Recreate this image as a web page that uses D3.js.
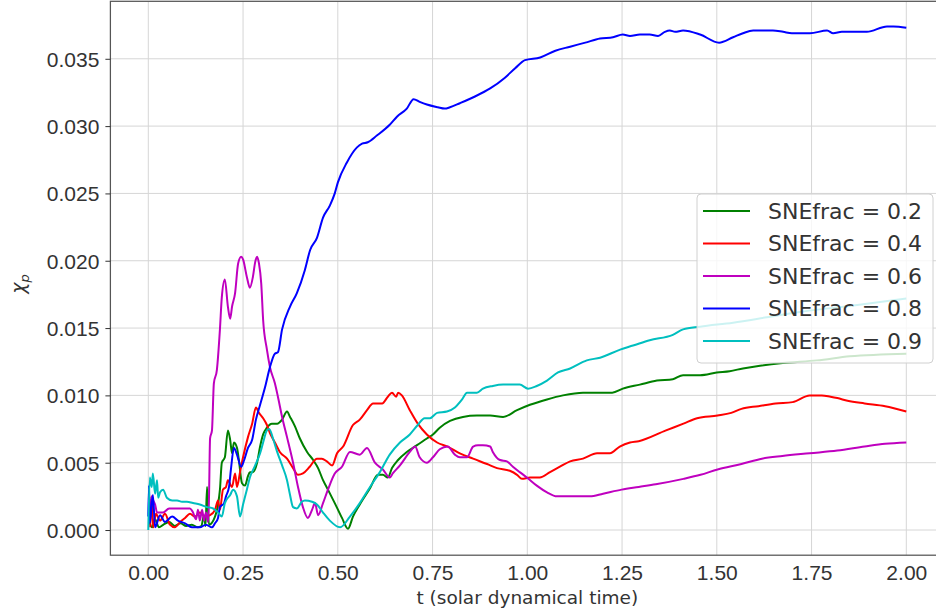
<!DOCTYPE html>
<html>
<head>
<meta charset="utf-8">
<script src="https://cdn.jsdelivr.net/npm/d3@7"></script>
<style>
  body { margin: 0; background: #fff; }
  svg { display: block; font-family: "DejaVu Sans", sans-serif; }
</style>
</head>
<body>
<div id="chart"></div>
<script>
// [t, chi_p] samples, one array per run
const sne02 = [
  [0.003, 0.0006], [0.010, 0.0002], [0.018, 0.0008], [0.028, 0.0002], [0.040, 0.0004],
  [0.055, 0.0006], [0.070, 0.0003], [0.085, 0.0005], [0.100, 0.0003], [0.115, 0.0004],
  [0.130, 0.0002], [0.140, 0.0003], [0.147, 0.0011], [0.151, 0.0003], [0.155, 0.0032],
  [0.160, 0.0004], [0.176, 0.0010], [0.184, 0.0019], [0.189, 0.0030], [0.194, 0.0050],
  [0.202, 0.0054], [0.210, 0.0074], [0.216, 0.0067], [0.221, 0.0057], [0.226, 0.0065],
  [0.234, 0.0061], [0.239, 0.0052], [0.247, 0.0035], [0.255, 0.0033], [0.263, 0.0040],
  [0.268, 0.0043], [0.276, 0.0043], [0.287, 0.0050], [0.295, 0.0062], [0.303, 0.0071],
  [0.313, 0.0076], [0.326, 0.0079], [0.340, 0.0079], [0.353, 0.0082], [0.366, 0.0088],
  [0.374, 0.0084], [0.387, 0.0077], [0.400, 0.0068], [0.419, 0.0058], [0.435, 0.0052],
  [0.448, 0.0046], [0.461, 0.0037], [0.474, 0.0030], [0.492, 0.0020], [0.511, 0.0009],
  [0.527, 0.0001], [0.540, 0.0010], [0.558, 0.0019], [0.585, 0.0031], [0.606, 0.0041],
  [0.619, 0.0041], [0.632, 0.0039], [0.643, 0.0046], [0.659, 0.0052], [0.682, 0.0058],
  [0.709, 0.0063], [0.735, 0.0068], [0.751, 0.0071], [0.769, 0.0076], [0.796, 0.0081],
  [0.830, 0.0084], [0.867, 0.0085], [0.902, 0.0085], [0.936, 0.0084], [0.973, 0.0089],
  [1.007, 0.0093], [1.052, 0.0097], [1.094, 0.0100], [1.147, 0.0102], [1.192, 0.0102],
  [1.224, 0.0102], [1.252, 0.0105], [1.297, 0.0108], [1.342, 0.0111], [1.384, 0.0112],
  [1.411, 0.0115], [1.456, 0.0115], [1.500, 0.0117], [1.534, 0.0118], [1.569, 0.0120],
  [1.614, 0.0122], [1.674, 0.0124], [1.764, 0.0126], [1.851, 0.0129], [2.000, 0.0131]
];

const sne04 = [
  [0.005, 0.0002], [0.008, 0.0025], [0.013, 0.0002], [0.020, 0.0012], [0.031, 0.0007],
  [0.044, 0.0012], [0.057, 0.0004], [0.070, 0.0002], [0.084, 0.0006], [0.097, 0.0009],
  [0.110, 0.0012], [0.123, 0.0010], [0.136, 0.0013], [0.150, 0.0010], [0.163, 0.0011],
  [0.176, 0.0015], [0.184, 0.0022], [0.189, 0.0015], [0.197, 0.0030], [0.205, 0.0032],
  [0.210, 0.0037], [0.221, 0.0032], [0.229, 0.0042], [0.234, 0.0032], [0.242, 0.0043],
  [0.250, 0.0054], [0.263, 0.0069], [0.274, 0.0079], [0.284, 0.0091], [0.292, 0.0087],
  [0.303, 0.0083], [0.313, 0.0078], [0.321, 0.0072], [0.334, 0.0065], [0.347, 0.0058],
  [0.366, 0.0053], [0.382, 0.0046], [0.395, 0.0041], [0.408, 0.0042], [0.426, 0.0047],
  [0.445, 0.0053], [0.458, 0.0053], [0.471, 0.0051], [0.485, 0.0048], [0.498, 0.0057],
  [0.514, 0.0062], [0.540, 0.0078], [0.558, 0.0082], [0.577, 0.0089], [0.593, 0.0094],
  [0.617, 0.0094], [0.632, 0.0099], [0.643, 0.0102], [0.654, 0.0099], [0.659, 0.0102],
  [0.669, 0.0100], [0.690, 0.0089], [0.711, 0.0079], [0.735, 0.0071], [0.762, 0.0065],
  [0.790, 0.0062], [0.822, 0.0057], [0.857, 0.0053], [0.894, 0.0049], [0.920, 0.0046],
  [0.954, 0.0044], [0.973, 0.0041], [0.986, 0.0038], [1.007, 0.0039], [1.033, 0.0039],
  [1.060, 0.0043], [1.086, 0.0047], [1.113, 0.0051], [1.147, 0.0053], [1.184, 0.0057],
  [1.218, 0.0057], [1.244, 0.0062], [1.271, 0.0065], [1.294, 0.0066], [1.366, 0.0074],
  [1.412, 0.0079], [1.448, 0.0083], [1.502, 0.0085], [1.538, 0.0087], [1.565, 0.0090],
  [1.610, 0.0092], [1.655, 0.0094], [1.700, 0.0095], [1.745, 0.0100], [1.777, 0.0100],
  [1.800, 0.0099], [1.818, 0.0098], [1.845, 0.0096], [1.890, 0.0094], [1.944, 0.0092],
  [2.000, 0.0088]
];

const sne06 = [
  [0.005, 0.0010], [0.009, 0.0025], [0.013, 0.0022], [0.018, 0.0019], [0.023, 0.0013],
  [0.039, 0.0013], [0.055, 0.0016], [0.081, 0.0016], [0.110, 0.0016], [0.118, 0.0013],
  [0.126, 0.0008], [0.131, 0.0015], [0.136, 0.0007], [0.142, 0.0015], [0.147, 0.0007],
  [0.152, 0.0013], [0.158, 0.0006], [0.160, 0.0022], [0.163, 0.0068], [0.168, 0.0074],
  [0.173, 0.0109], [0.181, 0.0119], [0.189, 0.0149], [0.194, 0.0173], [0.202, 0.0186],
  [0.210, 0.0166], [0.216, 0.0157], [0.221, 0.0166], [0.229, 0.0176], [0.237, 0.0198],
  [0.245, 0.0203], [0.250, 0.0201], [0.260, 0.0188], [0.268, 0.0180], [0.276, 0.0188],
  [0.282, 0.0199], [0.287, 0.0203], [0.292, 0.0198], [0.298, 0.0183], [0.303, 0.0156],
  [0.313, 0.0134], [0.321, 0.0121], [0.334, 0.0109], [0.342, 0.0099], [0.353, 0.0084],
  [0.366, 0.0069], [0.382, 0.0050], [0.395, 0.0032], [0.408, 0.0017], [0.421, 0.0009],
  [0.432, 0.0015], [0.440, 0.0020], [0.448, 0.0011], [0.461, 0.0020], [0.474, 0.0030],
  [0.492, 0.0042], [0.511, 0.0047], [0.532, 0.0058], [0.558, 0.0056], [0.577, 0.0061],
  [0.598, 0.0050], [0.619, 0.0045], [0.637, 0.0039], [0.645, 0.0042], [0.664, 0.0048],
  [0.690, 0.0058], [0.704, 0.0062], [0.716, 0.0054], [0.735, 0.0050], [0.751, 0.0054],
  [0.769, 0.0060], [0.790, 0.0062], [0.809, 0.0056], [0.822, 0.0054], [0.841, 0.0054],
  [0.857, 0.0062], [0.870, 0.0063], [0.883, 0.0063], [0.902, 0.0062], [0.909, 0.0058],
  [0.928, 0.0052], [0.946, 0.0051], [0.962, 0.0047], [0.980, 0.0043], [0.999, 0.0039],
  [1.025, 0.0033], [1.052, 0.0028], [1.078, 0.0025], [1.113, 0.0025], [1.165, 0.0025],
  [1.200, 0.0027], [1.249, 0.0030], [1.294, 0.0032], [1.339, 0.0034], [1.412, 0.0038],
  [1.457, 0.0041], [1.502, 0.0045], [1.565, 0.0049], [1.619, 0.0053], [1.673, 0.0055],
  [1.745, 0.0057], [1.818, 0.0059], [1.890, 0.0062], [1.944, 0.0064], [2.000, 0.0065]
];

const sne08 = [
  [0.000, 0.0010], [0.002, 0.0033], [0.004, 0.0005], [0.012, 0.0026], [0.018, 0.0002],
  [0.031, 0.0011], [0.044, 0.0006], [0.063, 0.0010], [0.078, 0.0007], [0.097, 0.0005],
  [0.115, 0.0002], [0.136, 0.0002], [0.152, 0.0004], [0.168, 0.0002], [0.176, 0.0005],
  [0.184, 0.0009], [0.189, 0.0017], [0.200, 0.0020], [0.205, 0.0025], [0.213, 0.0032],
  [0.218, 0.0045], [0.226, 0.0061], [0.234, 0.0056], [0.245, 0.0047], [0.253, 0.0052],
  [0.263, 0.0061], [0.274, 0.0067], [0.284, 0.0082], [0.295, 0.0093], [0.308, 0.0106],
  [0.321, 0.0121], [0.334, 0.0131], [0.342, 0.0132], [0.353, 0.0149], [0.374, 0.0166],
  [0.392, 0.0176], [0.413, 0.0193], [0.427, 0.0208], [0.445, 0.0217], [0.461, 0.0232],
  [0.479, 0.0241], [0.492, 0.0250], [0.500, 0.0258], [0.524, 0.0273], [0.550, 0.0284],
  [0.564, 0.0287], [0.579, 0.0288], [0.603, 0.0293], [0.637, 0.0301], [0.656, 0.0307],
  [0.682, 0.0313], [0.700, 0.0320], [0.716, 0.0318], [0.735, 0.0316], [0.764, 0.0314],
  [0.782, 0.0313], [0.796, 0.0314], [0.822, 0.0317], [0.862, 0.0322], [0.902, 0.0328],
  [0.941, 0.0336], [0.968, 0.0343], [0.994, 0.0349], [1.034, 0.0351], [1.074, 0.0356],
  [1.113, 0.0359], [1.153, 0.0362], [1.192, 0.0365], [1.226, 0.0366], [1.252, 0.0368],
  [1.271, 0.0367], [1.297, 0.0368], [1.323, 0.0368], [1.345, 0.0367], [1.363, 0.0370],
  [1.376, 0.0371], [1.390, 0.0370], [1.411, 0.0371], [1.456, 0.0368], [1.506, 0.0362],
  [1.543, 0.0366], [1.569, 0.0369], [1.596, 0.0371], [1.648, 0.0371], [1.675, 0.0370],
  [1.698, 0.0369], [1.746, 0.0369], [1.791, 0.0371], [1.807, 0.0369], [1.830, 0.0370],
  [1.878, 0.0370], [1.896, 0.0370], [1.949, 0.0374], [1.966, 0.0374], [2.000, 0.0373]
];

const sne09 = [
  [0.000, 0.0000], [0.004, 0.0039], [0.009, 0.0032], [0.012, 0.0042], [0.018, 0.0027],
  [0.023, 0.0037], [0.026, 0.0024], [0.031, 0.0028], [0.039, 0.0030], [0.049, 0.0024],
  [0.063, 0.0022], [0.076, 0.0022], [0.089, 0.0021], [0.102, 0.0021], [0.118, 0.0020],
  [0.136, 0.0019], [0.155, 0.0017], [0.171, 0.0016], [0.184, 0.0013], [0.194, 0.0010],
  [0.202, 0.0020], [0.216, 0.0026], [0.224, 0.0030], [0.234, 0.0025], [0.242, 0.0010],
  [0.250, 0.0019], [0.260, 0.0030], [0.268, 0.0039], [0.282, 0.0048], [0.295, 0.0057],
  [0.303, 0.0065], [0.313, 0.0074], [0.319, 0.0075], [0.329, 0.0068], [0.340, 0.0058],
  [0.353, 0.0048], [0.366, 0.0037], [0.374, 0.0026], [0.382, 0.0017], [0.392, 0.0016],
  [0.405, 0.0021], [0.413, 0.0022], [0.432, 0.0021], [0.445, 0.0019], [0.461, 0.0013],
  [0.479, 0.0007], [0.506, 0.0002], [0.532, 0.0010], [0.558, 0.0020], [0.585, 0.0032],
  [0.611, 0.0043], [0.637, 0.0056], [0.664, 0.0065], [0.690, 0.0071], [0.711, 0.0078],
  [0.729, 0.0083], [0.743, 0.0083], [0.762, 0.0087], [0.788, 0.0088], [0.809, 0.0091],
  [0.828, 0.0097], [0.841, 0.0102], [0.867, 0.0102], [0.883, 0.0105], [0.909, 0.0107],
  [0.936, 0.0108], [0.962, 0.0108], [0.980, 0.0108], [1.002, 0.0105], [1.025, 0.0107],
  [1.052, 0.0111], [1.081, 0.0117], [1.113, 0.0120], [1.157, 0.0126], [1.192, 0.0128],
  [1.245, 0.0134], [1.279, 0.0137], [1.323, 0.0141], [1.384, 0.0145], [1.411, 0.0149],
  [1.456, 0.0151], [1.543, 0.0154], [1.632, 0.0158], [1.719, 0.0162], [1.807, 0.0165],
  [1.896, 0.0168], [2.000, 0.0172]
];

const seriesNames = ['SNEfrac = 0.2', 'SNEfrac = 0.4', 'SNEfrac = 0.6', 'SNEfrac = 0.8', 'SNEfrac = 0.9'];
const seriesColors = ['#008000', '#ff0000', '#bf00bf', '#0000ff', '#00bfbf'];
const seriesData = [sne02, sne04, sne06, sne08, sne09];

const xTicks = [0, 0.25, 0.5, 0.75, 1.0, 1.25, 1.5, 1.75, 2.0];
const yTicks = [0, 0.005, 0.010, 0.015, 0.020, 0.025, 0.030, 0.035];

const width = 936, height = 614;
// the axes box runs past the right edge of the picture, as in the original
const plotLeft = 110.4, plotRight = 944.2, plotTop = 1.3, plotBottom = 555.2;
const fg = '#333';

const svg = d3.select('#chart').append('svg')
    .attr('width', width)
    .attr('height', height);

const xScale = d3.scaleLinear().domain([-0.1, 2.1]).range([plotLeft, plotRight]);
const yScale = d3.scaleLinear().domain([-0.00187, 0.03927]).range([plotBottom, plotTop]);

// grid
svg.append('g')
    .selectAll('line')
    .data(xTicks)
    .enter().append('line')
    .attr('x1', d => xScale(d)).attr('x2', d => xScale(d))
    .attr('y1', plotTop).attr('y2', plotBottom)
    .attr('stroke', '#d6d6d6').attr('stroke-width', 1);

svg.append('g')
    .selectAll('line')
    .data(yTicks)
    .enter().append('line')
    .attr('x1', plotLeft).attr('x2', plotRight)
    .attr('y1', d => yScale(d)).attr('y2', d => yScale(d))
    .attr('stroke', '#d6d6d6').attr('stroke-width', 1);

const line = d3.line()
    .x(d => xScale(d[0]))
    .y(d => yScale(d[1]))
    .curve(d3.curveMonotoneX);

svg.append('g')
    .selectAll('path')
    .data(seriesData)
    .enter().append('path')
    .attr('fill', 'none')
    .attr('stroke', (d, i) => seriesColors[i])
    .attr('stroke-width', 2)
    .attr('stroke-linejoin', 'round')
    .attr('d', d => line(d));

// spines
svg.append('rect')
    .attr('x', plotLeft).attr('y', plotTop)
    .attr('width', plotRight - plotLeft).attr('height', plotBottom - plotTop)
    .attr('fill', 'none').attr('stroke', '#555').attr('stroke-width', 1.25);

const yAxis = svg.append('g')
    .attr('transform', `translate(${plotLeft},0)`)
    .call(d3.axisLeft(yScale).tickValues(yTicks).tickFormat(d3.format('.3f')).tickSize(5).tickPadding(6));
yAxis.select('.domain').remove();
yAxis.selectAll('line').attr('stroke', fg);
yAxis.selectAll('text').attr('fill', fg).style('font-size', '21px').attr('dy', '0.36em');

const xAxis = svg.append('g')
    .attr('transform', `translate(0,${plotBottom})`)
    .call(d3.axisBottom(xScale).tickValues(xTicks).tickFormat(d3.format('.2f')).tickSize(0).tickPadding(10));
xAxis.select('.domain').remove();
xAxis.selectAll('text').attr('fill', fg).style('font-size', '21px');

svg.append('text')
    .attr('x', (plotLeft + plotRight) / 2)
    .attr('y', 604)
    .attr('text-anchor', 'middle')
    .attr('fill', fg)
    .style('font-size', '18.5px')
    .text('t (solar dynamical time)');

const ylab = svg.append('text')
    .attr('transform', 'translate(25,284) rotate(-90)')
    .attr('text-anchor', 'middle')
    .attr('fill', fg)
    .style('font-size', '19px');
ylab.append('tspan').style('font-style', 'italic').text('χ');
ylab.append('tspan').style('font-style', 'italic').style('font-size', '13px').attr('dy', '4').text('p');

// legend
const legend = svg.append('g').attr('transform', 'translate(697,194)');
legend.append('rect')
    .attr('width', 236).attr('height', 169)
    .attr('rx', 4).attr('ry', 4)
    .attr('fill', 'rgba(255,255,255,0.8)')
    .attr('stroke', '#d0d0d0').attr('stroke-width', 1);

const items = legend.selectAll('.legend-item')
    .data(seriesNames)
    .enter().append('g')
    .attr('class', 'legend-item')
    .attr('transform', (d, i) => `translate(0,${17 + i * 32.5})`);

items.append('line')
    .attr('x1', 6).attr('x2', 53)
    .attr('stroke', (d, i) => seriesColors[i])
    .attr('stroke-width', 2);

items.append('text')
    .attr('x', 71)
    .attr('dy', '0.36em')
    .attr('fill', fg)
    .style('font-size', '22px')
    .text(d => d);
</script>
</body>
</html>
